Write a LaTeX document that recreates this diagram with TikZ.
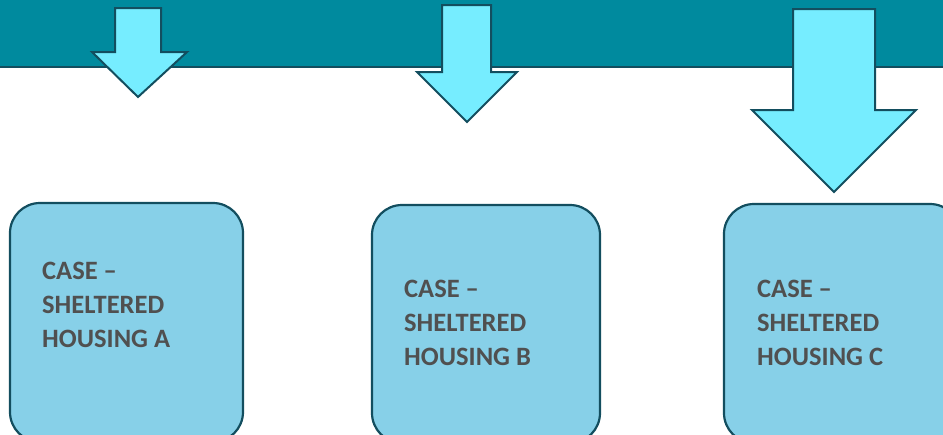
\documentclass[tikz,border=0pt]{standalone}
\usepackage{fontspec}
\setmainfont{Carlito}
\definecolor{band}{HTML}{008A9E}
\definecolor{arrowfill}{HTML}{76EDFF}
\definecolor{edge}{HTML}{134E5F}
\definecolor{boxfill}{HTML}{87D0E8}
\definecolor{txt}{HTML}{505050}
\begin{document}
\begin{tikzpicture}[x=1pt,y=-1pt,
  blockarrow/.style={fill=arrowfill,draw=edge,line width=2pt,line join=miter},
  casebox/.style={fill=boxfill,draw=edge,line width=2.2pt,rounded corners=30pt},
  casetext/.style={anchor=base west,inner sep=0pt,align=left,text=txt,
    font=\fontsize{26.5}{34}\selectfont\bfseries}]
\useasboundingbox (0,0) rectangle (943,434);
\clip (0,0) rectangle (943,434);
\fill[band] (0,0) rectangle (943,67);
\draw[edge,line width=1.2pt] (0,67) -- (943,67);
% arrows
\draw[blockarrow] (115,8) -- (161,8) -- (161,52) -- (187,52) -- (138,97) -- (92,52) -- (115,52) -- cycle;
\draw[blockarrow] (442,5) -- (491,5) -- (491,72) -- (517,72) -- (467,122) -- (417,72) -- (442,72) -- cycle;
\draw[blockarrow] (793,9) -- (875,9) -- (875,110) -- (916,110) -- (834,192) -- (752,110) -- (793,110) -- cycle;
% boxes
\draw[casebox] (10,203) rectangle (243,442);
\draw[casebox] (372,205) rectangle (600,443);
\draw[casebox] (724,204) rectangle (960,443);
\node[casetext] (ta) at (42,347) {CASE –\\SHELTERED\\HOUSING A};
\node[casetext] (tb) at (404,365) {CASE –\\SHELTERED\\HOUSING B};
\node[casetext] (tc) at (757,365) {CASE –\\SHELTERED\\HOUSING C};
\end{tikzpicture}
\end{document}
